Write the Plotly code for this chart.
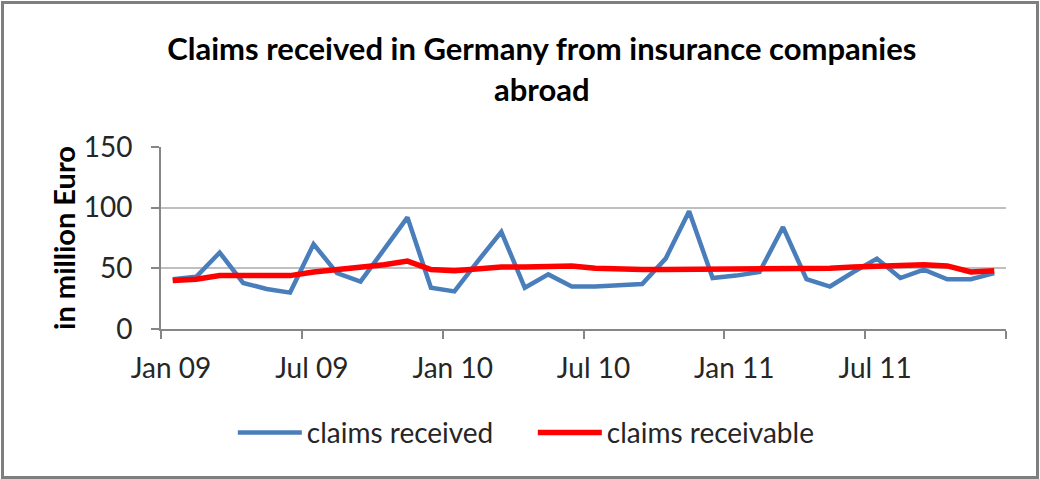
import plotly.graph_objects as go

months = [f"{m} {y}" for y in ["09", "10", "11"] for m in
          ["Jan", "Feb", "Mar", "Apr", "May", "Jun", "Jul", "Aug", "Sep", "Oct", "Nov", "Dec"]]

claims_received = [41, 43, 63, 38, 33, 30, 70, 46, 39, 65, 92, 34,
                   31, 56, 80, 34, 45, 35, 35, 36, 37, 58, 97, 42,
                   44, 47, 84, 41, 35, 47, 58, 42, 49, 41, 41, 46]

claims_receivable = [40, 41, 44, 44, 44, 44, 47, 49, 50, 53, 56, 49,
                     48, 50, 51, 51, 52, 52, 50, 49, 49, 49, 49, 49,
                     50, 50, 50, 50, 50, 51, 52, 52, 53, 52, 47, 48]

tick_labels = ["Jan 09", "Jul 09", "Jan 10", "Jul 10", "Jan 11", "Jul 11", ""]
tick_step = 6

idx = list(range(len(months)))
tick_pos = [i * tick_step - 0.5 for i in range(len(tick_labels))]

FONT = "Lato"

fig = go.Figure()
fig.add_trace(go.Scatter(x=idx, y=claims_received, mode="lines", name="claims received",
                         text=months, line=dict(color="#4A7EBB", width=4.5)))
fig.add_trace(go.Scatter(x=idx, y=claims_receivable, mode="lines", name="claims receivable",
                         text=months, line=dict(color="#FF0000", width=5.5)))

fig.update_layout(
    width=1040, height=479,
    margin=dict(l=161, r=34, t=147, b=150),
    paper_bgcolor="white", plot_bgcolor="white",
    font=dict(family=FONT, color="#262626"),
    title=dict(text="Claims received in Germany from insurance companies<br>abroad",
               x=0.521, xanchor="center", xref="container",
               y=0.874, yanchor="top", yref="container",
               font=dict(family=FONT, size=31, color="black", weight="bold")),
    showlegend=True,
    legend=dict(orientation="h", x=0.085, xanchor="left", y=-0.57, yanchor="middle",
                font=dict(family=FONT, size=28, color="#262626"),
                itemwidth=64, tracegroupgap=0, entrywidth=221),
    xaxis=dict(range=[-0.5, 35.5], tickmode="array", tickvals=tick_pos, ticktext=tick_labels,
               ticks="outside", ticklen=8, tickcolor="#868686", tickwidth=2,
               showline=True, linecolor="#868686", linewidth=2,
               showgrid=False, zeroline=False,
               tickfont=dict(family=FONT, size=28, color="#262626"),
               ticklabelshift=10, ticklabelstandoff=5),
    yaxis=dict(range=[0, 150], tickmode="linear", tick0=0, dtick=50,
               ticks="outside", ticklen=8, tickcolor="#868686", tickwidth=2,
               showline=True, linecolor="#868686", linewidth=2,
               showgrid=True, gridcolor="#BFBFBF", gridwidth=2, zeroline=False,
               tickfont=dict(family=FONT, size=28, color="#262626"),
               ticklabelstandoff=13,
               title=dict(text="in million Euro", standoff=0,
                          font=dict(family=FONT, size=29, color="black", weight="bold"))),
    shapes=[dict(type="rect", xref="paper", yref="paper",
                 x0=(2.5 - 161) / 845, x1=(1037.5 - 161) / 845,
                 y0=(329 - 477.5) / 182, y1=(329 - 2.5) / 182,
                 line=dict(color="#7F7F7F", width=3), fillcolor="rgba(0,0,0,0)", layer="below")],
)

fig.write_html("out.html", config={"displayModeBar": False},
               post_script="document.body.style.margin='0';")
